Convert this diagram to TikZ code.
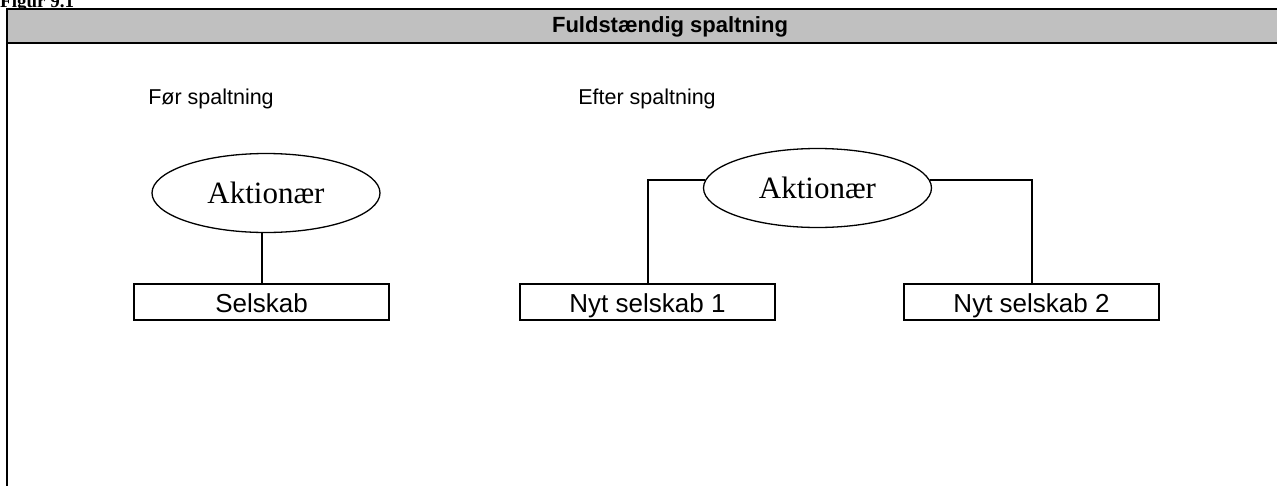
\documentclass[tikz,border=0pt]{standalone}
\usepackage{fontspec}
\setmainfont{Liberation Serif}
\setsansfont{Liberation Sans}
\usepackage{xcolor}
\usepackage{tikz}
\usetikzlibrary{shapes.geometric}
\definecolor{headgray}{HTML}{C0C0C0}
\tikzstyle{owner} = [ellipse, draw, line width=1.3pt, inner sep=0pt,
    minimum width=228pt, minimum height=79pt,
    font=\fontsize{31}{36}\selectfont]
\tikzstyle{firm} = [rectangle, draw, line width=2pt, inner sep=0pt,
    minimum width=255pt, minimum height=36pt,
    text height=20pt, text depth=0pt,
    font=\sffamily\fontsize{26}{30}\selectfont]
\tikzstyle{caption} = [font=\sffamily\fontsize{21.5}{26}\selectfont]
\tikzstyle{link} = [line width=2pt]

\begin{document}
\begin{tikzpicture}[x=1pt, y=-1pt, % pixel grid, y grows downwards
    line join=miter]
    \useasboundingbox (0,0) rectangle (1277,485);
    % frame with grey title bar
    \node[anchor=base west, inner sep=0pt, font=\bfseries\fontsize{19}{22}\selectfont]
        (fig) at (0,7) {Figur 9.1};
    \fill[headgray] (7,9) rectangle (1300,43);
    \draw[line width=2pt] (7,490) -- (7,9) -- (1300,9);
    \draw[line width=2pt] (7,43) -- (1300,43);
    \node[font=\sffamily\bfseries\fontsize{22}{26}\selectfont] (title) at (670,26.5)
        {Fuldstændig spaltning};

    % before
    \node[caption] (before) at (211,99) {Før spaltning};
    \node[owner] (akt1) at (266,193) {Aktionær};
    \node[firm] (sel) at (261.5,302) {Selskab};
    \draw[link] (sel.north) -- (sel.north |- akt1.south);

    % after
    \node[caption] (after) at (647,99) {Efter spaltning};
    \node[owner] (akt2) at (817.5,188) {Aktionær};
    \node[firm] (nyt1) at (647.5,302) {Nyt selskab 1};
    \node[firm] (nyt2) at (1031.5,302) {Nyt selskab 2};
    \draw[link] (akt2.176) -| (nyt1.north);
    \draw[link] (akt2.4) -| (nyt2.north);
\end{tikzpicture}
\end{document}
